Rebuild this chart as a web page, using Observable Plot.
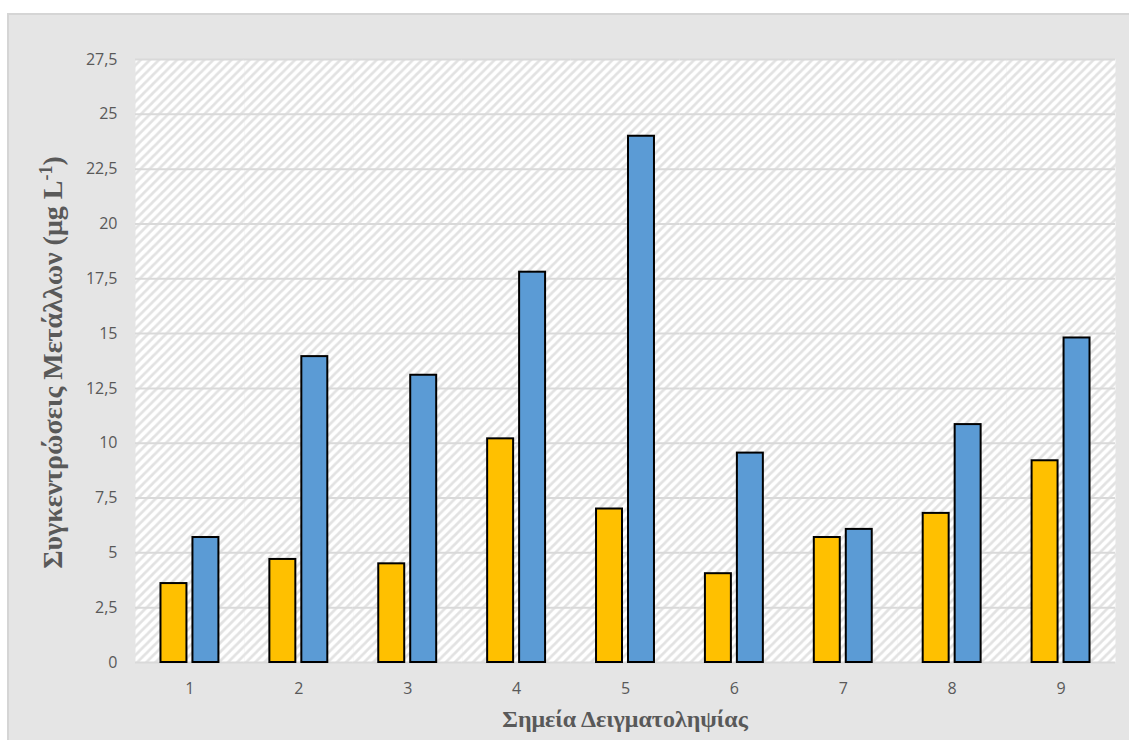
<!DOCTYPE html>
<html>
<head>
<meta charset="utf-8">
<script src="https://cdn.jsdelivr.net/npm/d3@7"></script>
<script src="https://cdn.jsdelivr.net/npm/@observablehq/plot@0.6"></script>
<style>
html, body { margin: 0; padding: 0; background: #ffffff; width: 1129px; height: 740px; overflow: hidden; }
#frame { position: absolute; left: 7px; top: 13px; width: 1140px; height: 760px; background: #e5e5e5; border-left: 2px solid #d5d5d5; border-top: 2px solid #d5d5d5; }
#chart { position: absolute; left: 0; top: 0; }
</style>
</head>
<body>
<div id="frame"></div>
<div id="chart"></div>
<script>
// ---- data ----
const sites = ["1", "2", "3", "4", "5", "6", "7", "8", "9"];
const seriesNames = ["Σειρά 1", "Σειρά 2"];
const series1 = [3.6, 4.7, 4.5, 10.2, 7.0, 4.05, 5.7, 6.8, 9.2];
const series2 = [5.7, 13.95, 13.1, 17.8, 24.0, 9.55, 6.07, 10.85, 14.8];
const seriesColors = ["#FFC000", "#5B9BD5"];
const yTicks = [0, 2.5, 5, 7.5, 10, 12.5, 15, 17.5, 20, 22.5, 25, 27.5];
const yTickLabels = ["0", "2,5", "5", "7,5", "10", "12,5", "15", "17,5", "20", "22,5", "25", "27,5"];
const xTitle = "Σημεία Δειγματοληψίας";
const yTitleMain = "Συγκεντρώσεις Μετάλλων (μg L";
const yTitleSup = "-1";
const yTitleEnd = ")";

const data = sites.flatMap((s, i) => [
  {site: s, series: seriesNames[0], value: series1[i]},
  {site: s, series: seriesNames[1], value: series2[i]}
]);

const W = 1129, H = 740;
const mL = 135, mR = 14, mT = 59, mB = 78;

const plot = Plot.plot({
  width: W,
  height: H,
  marginLeft: mL,
  marginRight: mR,
  marginTop: mT,
  marginBottom: mB,
  style: {background: "transparent", fontFamily: "'Open Sans', sans-serif", fontSize: "16px", color: "#595959"},
  fx: {domain: sites, padding: 0, round: false, label: null, axis: "bottom", tickSize: 0, tickPadding: 20},
  x: {domain: seriesNames, paddingInner: 0.1875, paddingOuter: 0.797, round: false, axis: null},
  y: {domain: [0, 27.5], ticks: yTicks, tickFormat: d => yTickLabels[yTicks.indexOf(d)], tickSize: 0, tickPadding: 18, label: null},
  color: {domain: seriesNames, range: seriesColors},
  marks: [
    Plot.frame({fill: "url(#hatch)", stroke: null}),
    Plot.ruleY(yTicks, {stroke: "#d9d9d9", strokeWidth: 2}),
    Plot.barY(data, {fx: "site", x: "series", y: "value", fill: "series", stroke: "#000000", strokeWidth: 2})
  ]
});

document.getElementById("chart").appendChild(plot);

// hatch pattern (period divides the facet width so tiles join seamlessly)
const facetW = (W - mL - mR) / sites.length;
const P = facetW / 12;
const svg = d3.select(plot);
const defs = svg.insert("defs", ":first-child");
const pat = defs.append("pattern")
  .attr("id", "hatch")
  .attr("patternUnits", "userSpaceOnUse")
  .attr("width", P).attr("height", P);
pat.append("rect").attr("width", P).attr("height", P).attr("fill", "#ffffff");
pat.append("path")
  .attr("d", `M${-P},${P} L${P},${-P} M0,${P} L${P},0 M0,${2 * P} L${2 * P},0`)
  .attr("stroke", "#e2e2e2").attr("stroke-width", P * 0.3).attr("fill", "none");

// axis titles
const cx = mL + (W - mL - mR) / 2;
const cy = mT + (H - mT - mB) / 2;
svg.append("text")
  .attr("x", cx).attr("y", 727)
  .attr("text-anchor", "middle")
  .attr("font-family", "'Liberation Serif', 'Times New Roman', serif")
  .attr("font-weight", "bold").attr("font-size", 24).attr("fill", "#595959")
  .text(xTitle);
const yt = svg.append("text")
  .attr("transform", `translate(62,${cy + 2}) rotate(-90)`)
  .attr("text-anchor", "middle")
  .attr("font-family", "'Liberation Serif', 'Times New Roman', serif")
  .attr("font-weight", "bold").attr("font-size", 28).attr("fill", "#595959");
yt.append("tspan").text(yTitleMain);
yt.append("tspan").attr("dy", -10).attr("font-size", 18).text(yTitleSup);
yt.append("tspan").attr("dy", 10).text(yTitleEnd);
</script>
</body>
</html>
